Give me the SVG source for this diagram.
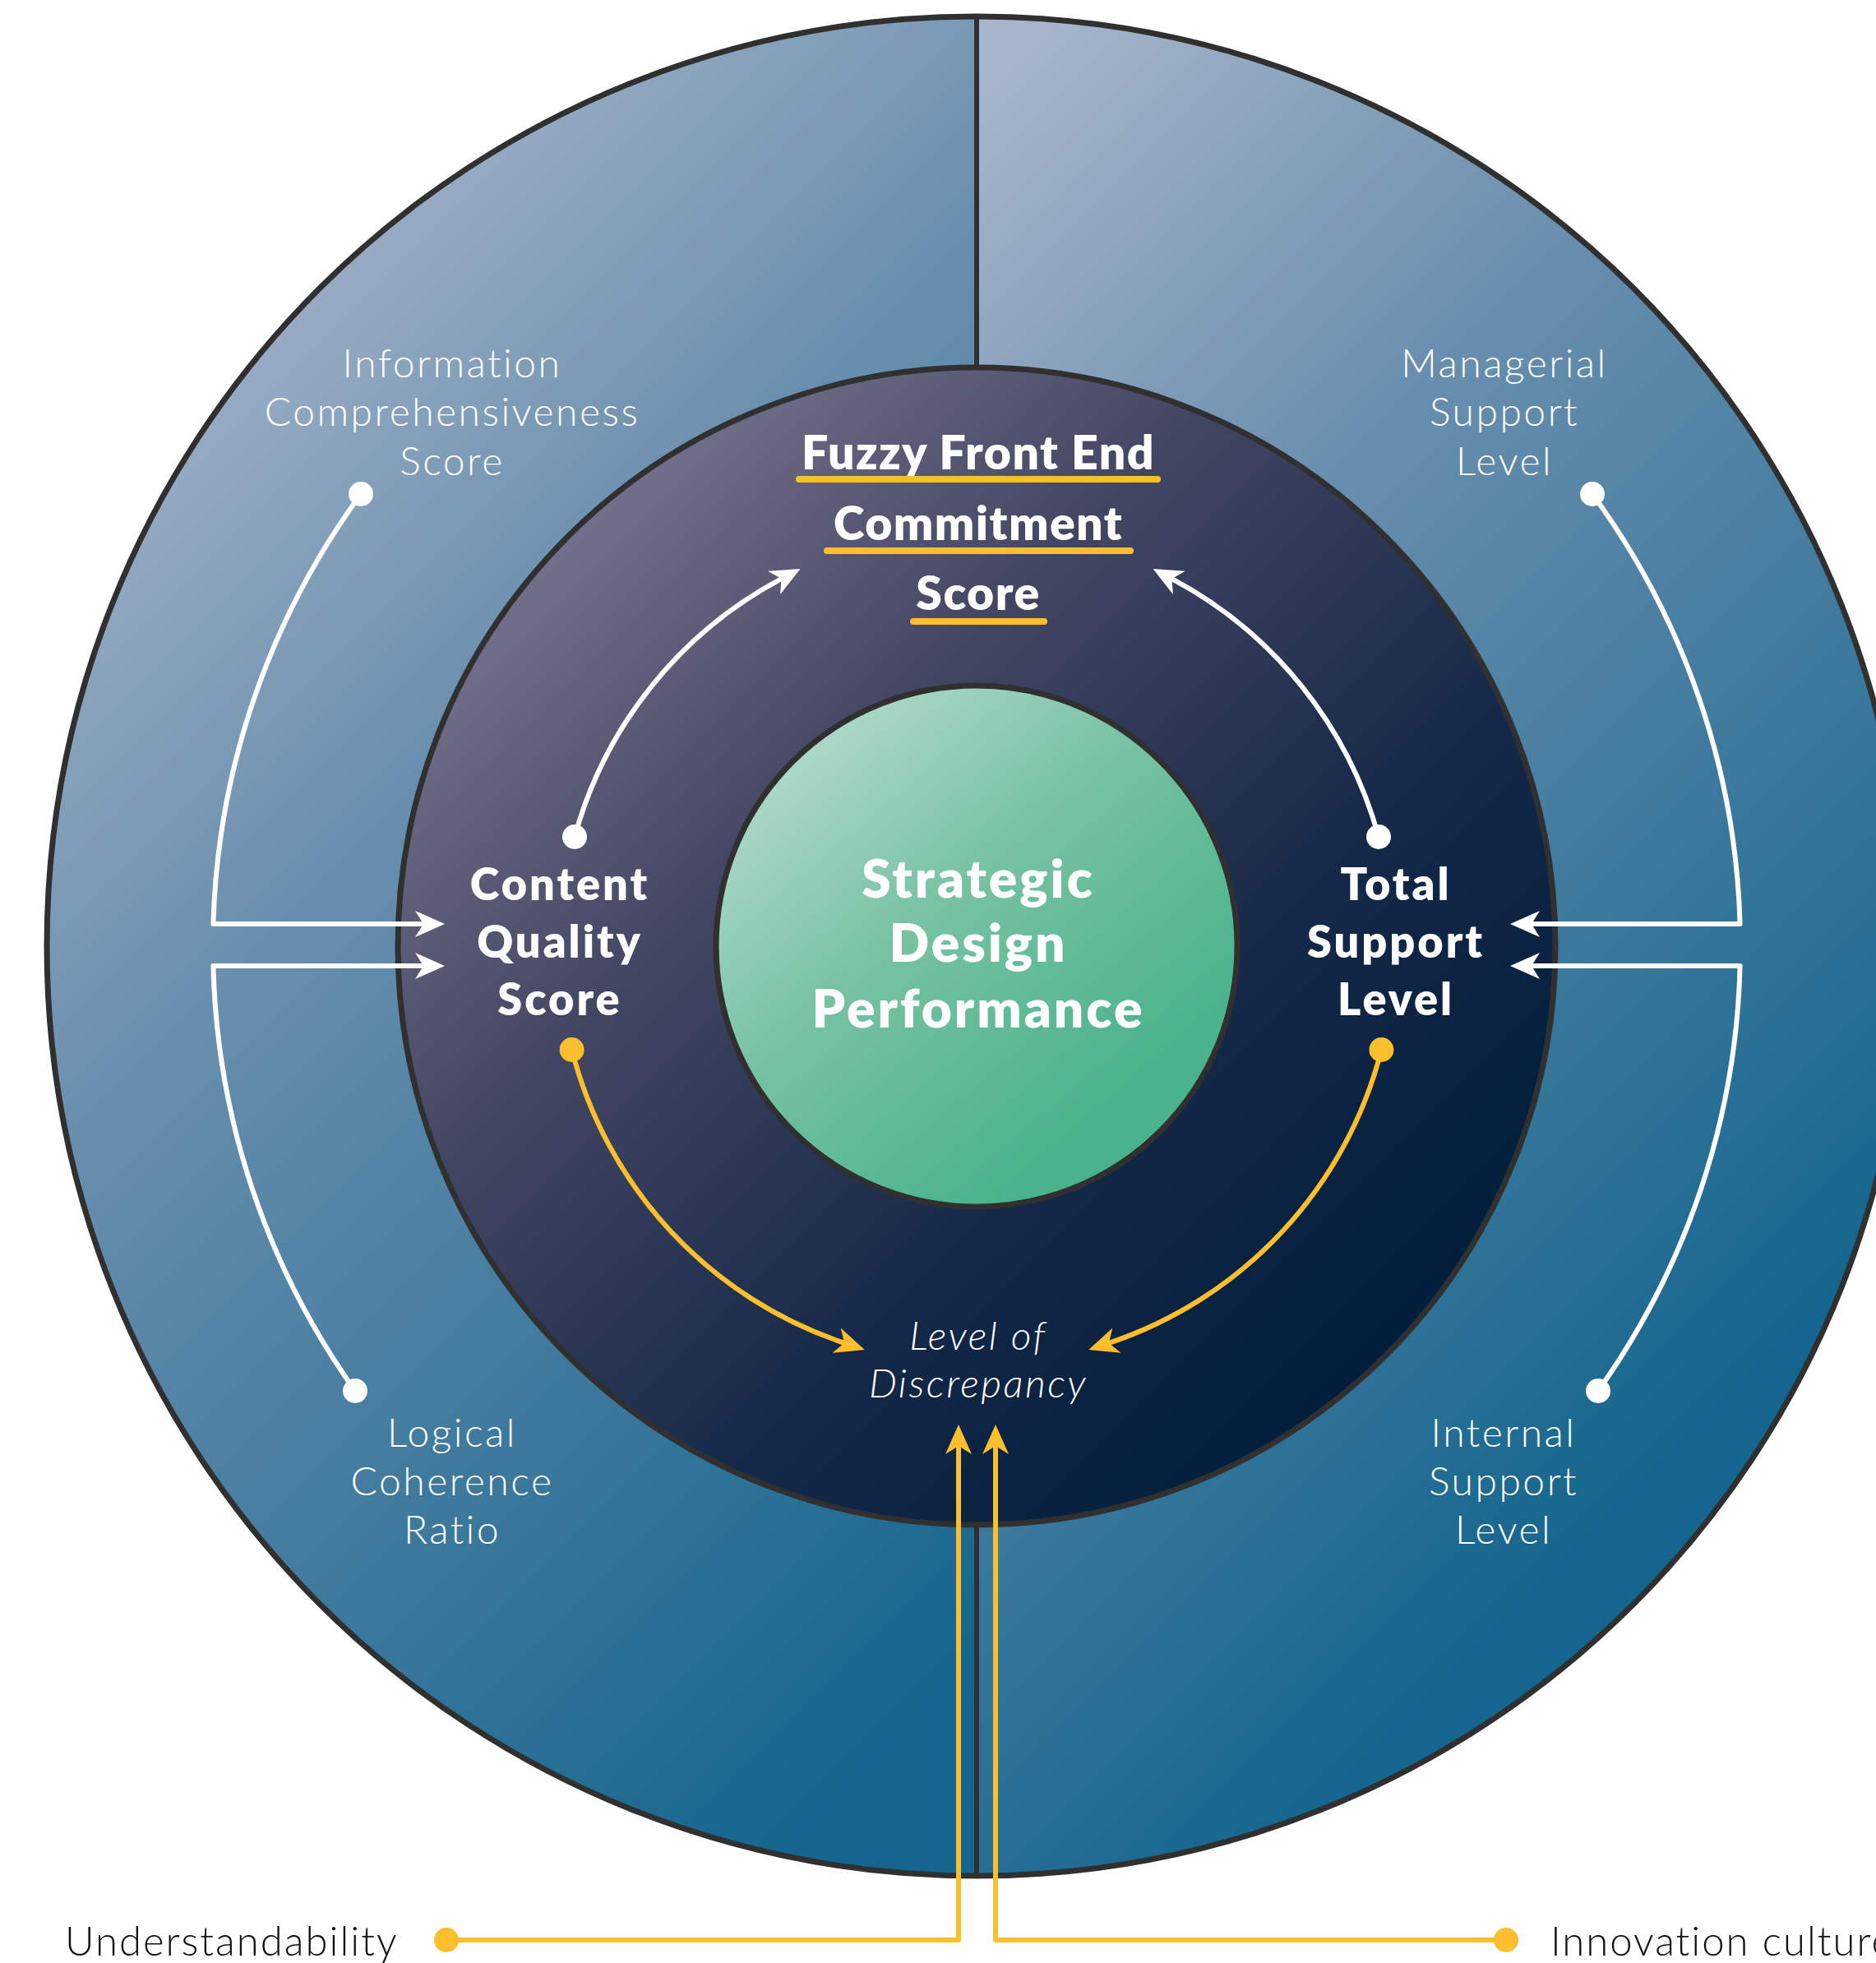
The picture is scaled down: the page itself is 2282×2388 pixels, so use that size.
<svg xmlns="http://www.w3.org/2000/svg" width="2282" height="2388" viewBox="0 0 2282 2388">
  <defs>
    <linearGradient id="gOuterL" gradientUnits="userSpaceOnUse" x1="250" y1="250" x2="1600" y2="1600">
      <stop offset="0" stop-color="#a6b5ca"/>
      <stop offset="0.35" stop-color="#6a8fae"/>
      <stop offset="1" stop-color="#15668e"/>
    </linearGradient>
    <linearGradient id="gOuterR" gradientUnits="userSpaceOnUse" x1="650" y1="650" x2="1900" y2="1900">
      <stop offset="0" stop-color="#a6b5ca"/>
      <stop offset="0.35" stop-color="#6a8fae"/>
      <stop offset="1" stop-color="#15668e"/>
    </linearGradient>
    <linearGradient id="gMiddle" x1="0.1" y1="0.1" x2="0.85" y2="0.85">
      <stop offset="0" stop-color="#7c7892"/>
      <stop offset="0.35" stop-color="#434663"/>
      <stop offset="0.7" stop-color="#152848"/>
      <stop offset="1" stop-color="#001e3a"/>
    </linearGradient>
    <linearGradient id="gCore" x1="0.1" y1="0.05" x2="0.75" y2="0.8">
      <stop offset="0" stop-color="#b9ddd0"/>
      <stop offset="0.5" stop-color="#77c2a3"/>
      <stop offset="1" stop-color="#4bb38b"/>
    </linearGradient>
    <marker id="arrW" markerUnits="userSpaceOnUse" viewBox="-40 -20 44 40" refX="-26" refY="0" markerWidth="44" markerHeight="40" orient="auto" overflow="visible">
      <path d="M0,0 L-36,-16 L-26,0 L-36,16 Z" fill="#ffffff"/>
    </marker>
    <marker id="arrY" markerUnits="userSpaceOnUse" viewBox="-40 -20 44 40" refX="-26" refY="0" markerWidth="44" markerHeight="40" orient="auto" overflow="visible">
      <path d="M0,0 L-36,-16 L-26,0 L-36,16 Z" fill="#fbbf2e"/>
    </marker>
  </defs>
  <style>
    .ring { stroke: #303030; stroke-width: 7; }
    .divider { stroke: #303030; stroke-width: 6; fill: none; }
    .lnW { fill: none; stroke: #ffffff; stroke-width: 6; stroke-linejoin: round; marker-end: url(#arrW); }
    .lnY { fill: none; stroke: #fbbf2e; stroke-width: 6; stroke-linejoin: round; marker-end: url(#arrY); }
    .dotW { fill: #ffffff; }
    .dotY { fill: #fbbf2e; }
    .uline { stroke: #fbbf2e; stroke-width: 8; stroke-linecap: round; }
    .bold { font-family: Lato, "Open Sans", sans-serif; font-weight: 800; fill: #ffffff; text-anchor: middle; }
    .core { font-size: 64px; letter-spacing: 3px; }
    .head { font-size: 57px; letter-spacing: 1.5px; }
    .mid { font-size: 54px; letter-spacing: 3px; }
    .light { font-family: Lato, "Open Sans", sans-serif; font-weight: 300; fill: #ffffff; text-anchor: middle; font-size: 48px; letter-spacing: 2.5px; }
    .ital { font-style: italic; }
    .ext { font-family: Lato, "Open Sans", sans-serif; font-weight: 300; fill: #111111; font-size: 49px; letter-spacing: 2px; }
  </style>

  <!-- outer ring: two halves, each with its own shading -->
  <g id="ring-outer">
    <path d="M1188,20 A1131,1131 0 0 0 1188,2282 Z" fill="url(#gOuterL)"/>
    <path d="M1188,20 A1131,1131 0 0 1 1188,2282 Z" fill="url(#gOuterR)"/>
    <circle cx="1188" cy="1151" r="1131" fill="none" class="ring"/>
    <line x1="1188" y1="20" x2="1188" y2="450" class="divider"/>
    <line x1="1188" y1="1852" x2="1188" y2="2282" class="divider"/>
  </g>

  <!-- middle ring -->
  <g id="ring-middle">
    <circle cx="1188" cy="1151" r="704" fill="url(#gMiddle)" class="ring"/>
  </g>

  <!-- core -->
  <g id="core">
    <circle cx="1188" cy="1151" r="317" fill="url(#gCore)" class="ring"/>
    <text class="bold core" x="1190" y="1092">Strategic</text>
    <text class="bold core" x="1190" y="1170">Design</text>
    <text class="bold core" x="1190" y="1250">Performance</text>
  </g>

  <g id="node-ffe">
    <text class="bold head" x="1190" y="571">Fuzzy Front End</text>
    <text class="bold head" x="1190" y="657">Commitment</text>
    <text class="bold head" x="1190" y="742">Score</text>
    <line class="uline" x1="972" y1="583" x2="1408" y2="583"/>
    <line class="uline" x1="1006" y1="670" x2="1375" y2="670"/>
    <line class="uline" x1="1111" y1="756" x2="1270" y2="756"/>
  </g>

  <g id="node-content-quality">
    <text class="bold mid" x="681" y="1095">Content</text>
    <text class="bold mid" x="681" y="1165">Quality</text>
    <text class="bold mid" x="681" y="1235">Score</text>
  </g>

  <g id="node-total-support">
    <text class="bold mid" x="1698" y="1095">Total</text>
    <text class="bold mid" x="1698" y="1165">Support</text>
    <text class="bold mid" x="1698" y="1235">Level</text>
  </g>

  <g id="node-discrepancy">
    <text class="light ital" x="1190" y="1642">Level of</text>
    <text class="light ital" x="1190" y="1700">Discrepancy</text>
  </g>

  <g id="node-info">
    <text class="light" x="550" y="459">Information</text>
    <text class="light" x="550" y="518">Comprehensiveness</text>
    <text class="light" x="550" y="578">Score</text>
  </g>

  <g id="node-managerial">
    <text class="light" x="1830" y="459">Managerial</text>
    <text class="light" x="1830" y="518">Support</text>
    <text class="light" x="1830" y="578">Level</text>
  </g>

  <g id="node-logical">
    <text class="light" x="550" y="1760">Logical</text>
    <text class="light" x="550" y="1819">Coherence</text>
    <text class="light" x="550" y="1878">Ratio</text>
  </g>

  <g id="node-internal">
    <text class="light" x="1829" y="1760">Internal</text>
    <text class="light" x="1829" y="1819">Support</text>
    <text class="light" x="1829" y="1878">Level</text>
  </g>

  <g id="node-understandability">
    <text class="ext" x="79" y="2379">Understandability</text>
  </g>

  <g id="node-innovation">
    <text class="ext" x="1886" y="2379">Innovation culture</text>
  </g>

  <!-- connectors -->
  <g id="connectors">
    <!-- outer feeders into the middle-ring scores -->
    <path class="lnW" d="M439,601 A929,929 0 0 0 259.4,1124 L515,1124"/>
    <path class="lnW" d="M432,1692 A929,929 0 0 1 259.4,1175 L515,1175"/>
    <path class="lnW" d="M1937,601 A929,929 0 0 1 2116.6,1124 L1863,1124"/>
    <path class="lnW" d="M1944,1692 A929,929 0 0 0 2116.6,1175 L1863,1175"/>
    <circle class="dotW" cx="439" cy="601" r="15"/>
    <circle class="dotW" cx="432" cy="1692" r="15"/>
    <circle class="dotW" cx="1937" cy="601" r="15"/>
    <circle class="dotW" cx="1944" cy="1692" r="15"/>

    <!-- scores up to the commitment score -->
    <path class="lnW" d="M699,1018 A507,507 0 0 1 950.5,704.1"/>
    <path class="lnW" d="M1677,1018 A507,507 0 0 0 1425.5,704.1"/>
    <circle class="dotW" cx="699" cy="1018" r="15"/>
    <circle class="dotW" cx="1677" cy="1018" r="15"/>

    <!-- scores down to the level of discrepancy -->
    <path class="lnY" d="M695.6,1277 A508,508 0 0 0 1027.1,1633.8"/>
    <path class="lnY" d="M1680.4,1277 A508,508 0 0 1 1348.9,1633.8"/>
    <circle class="dotY" cx="695.6" cy="1277" r="15"/>
    <circle class="dotY" cx="1680.4" cy="1277" r="15"/>

    <!-- external factors -->
    <path class="lnY" d="M543,2360 L1166,2360 L1166,1759"/>
    <path class="lnY" d="M1832,2360 L1211,2360 L1211,1759"/>
    <circle class="dotY" cx="543" cy="2360" r="15"/>
    <circle class="dotY" cx="1832" cy="2360" r="15"/>
  </g>
</svg>
